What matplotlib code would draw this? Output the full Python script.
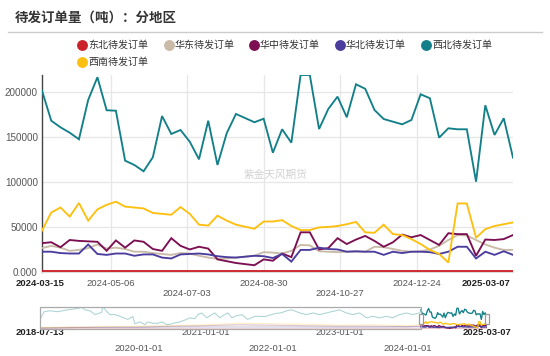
import matplotlib
matplotlib.use('Agg')
import matplotlib.pyplot as plt
import matplotlib.dates as mdates
import pandas as pd
from matplotlib.lines import Line2D
from matplotlib.patches import Rectangle
from matplotlib.ticker import FuncFormatter, FixedLocator
import matplotlib.transforms as mtransforms

plt.rcParams['font.family'] = ['Liberation Sans', 'Noto Sans CJK SC', 'DejaVu Sans']

# ---------------- data ----------------
dates = ['2024-03-15', '2024-03-22', '2024-03-29', '2024-04-05', '2024-04-12', '2024-04-19',
         '2024-04-26', '2024-05-03', '2024-05-10', '2024-05-17', '2024-05-24', '2024-05-31',
         '2024-06-07', '2024-06-14', '2024-06-21', '2024-06-28', '2024-07-05', '2024-07-12',
         '2024-07-19', '2024-07-26', '2024-08-02', '2024-08-09', '2024-08-23', '2024-08-30',
         '2024-09-06', '2024-09-13', '2024-09-20', '2024-09-27', '2024-10-04', '2024-10-11',
         '2024-10-18', '2024-10-25', '2024-11-01', '2024-11-08', '2024-11-15', '2024-11-22',
         '2024-11-29', '2024-12-06', '2024-12-13', '2024-12-20', '2024-12-27', '2025-01-03',
         '2025-01-10', '2025-01-17', '2025-01-24', '2025-01-31', '2025-02-07', '2025-02-14',
         '2025-02-21', '2025-02-28', '2025-03-07']

northeast = [1000, 1000, 1000, 1000, 1000, 1000, 1000, 1000, 1000, 1000, 1000, 1000, 1000,
             1000, 1000, 1000, 1000, 1000, 1000, 1000, 1000, 1000, 1000, 1000, 1000, 1000,
             1000, 1000, 1000, 1000, 1000, 1000, 1000, 1000, 1000, 1000, 1000, 1000, 1000,
             1000, 1000, 1000, 1000, 1000, 1000, 1000, 1000, 1000, 1000, 1000, 1000]
east = [26500, 29000, 27000, 23500, 24500, 26500, 30500, 26000, 27000, 25500, 22500, 22500,
        21000, 20000, 19000, 21000, 20500, 18000, 16000, 14500, 15000, 16000, 18000, 22000,
        21500, 20500, 23500, 30000, 29500, 23000, 22500, 22000, 22500, 22500, 22500, 28000,
        27500, 25500, 23500, 22500, 23000, 25000, 29000, 35500, 41000, 40500, 35500, 30500,
        27000, 24500, 24500]
central = [32000, 33000, 27500, 35500, 34500, 34000, 33500, 23500, 35000, 27000, 35000, 33500,
           25500, 23500, 37500, 29000, 25000, 28000, 26000, 14000, 12000, 10000, 7500, 14000,
           12500, 20500, 16500, 44000, 44000, 25000, 26500, 37500, 31000, 36000, 40000, 34500,
           28000, 33000, 41500, 38500, 41000, 35500, 30000, 43000, 42000, 42000, 18000, 36000,
           35500, 36500, 41000]
north = [22500, 22500, 21000, 20500, 20500, 30500, 20000, 19000, 20500, 20500, 18000, 19500,
         19500, 16000, 15000, 19500, 20000, 20500, 19500, 17500, 16500, 16000, 18000, 17500,
         15500, 20000, 11500, 24500, 24500, 27000, 25500, 25000, 22500, 23000, 22500, 22500,
         19000, 22500, 21000, 22500, 22500, 22000, 20000, 22500, 28000, 28000, 15000, 22500,
         19000, 23000, 19000]
northwest = [201100, 167800, 160500, 154500, 147200, 190800, 216000, 179400, 178900, 123500,
             118700, 111700, 127200, 173000, 153100, 157500, 144500, 125000, 167800, 118700,
             153900, 175300, 166100, 170000, 132300, 158300, 143400, 218500, 218500, 158600,
             180800, 194500, 171600, 208200, 203200, 179700, 169700, 166700, 163800, 168600,
             197100, 192700, 149000, 159400, 158300, 158300, 100200, 184900, 152000, 170500,
             126800]
southwest = [46000, 66000, 71500, 61500, 76500, 57000, 69500, 74500, 78000, 72500, 71500, 70500,
             65500, 64500, 63500, 72000, 64500, 52500, 51500, 62500, 57000, 52500, 48000, 56000,
             56000, 57500, 51000, 46500, 46500, 49500, 50000, 51000, 53000, 55500, 44000, 43500,
             52500, 42000, 41000, 36500, 31000, 24500, 20000, 10500, 76000, 76000, 38000, 47500,
             51000, 53000, 55000]

# history shown only in the data-zoom slider
hist_nw_dates = ['2018-07-13', '2018-08-04', '2018-09-05', '2018-10-19', '2018-12-07',
                 '2019-01-19', '2019-02-26', '2019-03-15', '2019-04-11', '2019-05-08', '2019-06-13',
                 '2019-06-20', '2019-07-12', '2019-07-28', '2019-08-25', '2019-09-21', '2019-11-03',
                 '2019-11-30', '2019-12-11',
                 '2020-01-08', '2020-02-04', '2020-02-20', '2020-03-18', '2020-04-14', '2020-05-06',
                 '2020-06-02', '2020-06-19', '2020-07-16', '2020-08-12', '2020-09-08', '2020-10-05',
                 '2020-11-01', '2020-11-18', '2020-12-08',
                 '2021-01-06', '2021-02-02', '2021-02-18', '2021-03-17', '2021-04-13', '2021-04-30',
                 '2021-05-22', '2021-06-07', '2021-07-15', '2021-08-16', '2021-09-24', '2021-11-17',
                 '2022-01-10', '2022-02-17', '2022-03-16', '2022-04-13', '2022-05-26', '2022-07-02',
                 '2022-08-05', '2022-09-12', '2022-10-18', '2022-11-21', '2022-12-29',
                 '2023-02-04', '2023-03-10', '2023-04-17', '2023-05-24', '2023-06-27', '2023-08-04',
                 '2023-09-09', '2023-10-13', '2023-11-21', '2023-12-27',
                 '2024-01-30', '2024-03-08']
hist_nw = [101000, 182000, 192000, 182000, 202000,
           212000, 227000, 202000, 192000, 152000, 175000, 235000, 182000, 152000, 152000,
           134000, 101000, 131000, 55000,
           75000, 45000, 75000, 60000, 60000, 75000, 45000, 50000, 65000, 75000, 94000, 118000,
           108000, 152000, 169000,
           118000, 152000, 169000, 118000, 152000, 169000, 118000, 134000, 152000, 101000,
           134000, 131000,
           162000, 172000, 192000, 202000, 169000, 152000, 169000, 152000, 169000, 185000, 202000,
           169000, 152000, 169000, 118000, 134000, 118000, 134000, 118000, 152000, 169000,
           152000, 169000]
hist_dates = ['2018-07-13', '2019-01-01', '2019-07-01', '2020-01-01', '2020-07-01', '2021-01-01',
              '2021-07-01', '2022-01-01', '2022-07-01', '2023-01-01', '2023-07-01', '2024-01-01',
              '2024-03-08']
hist_ne = [2000, 2000, 2000, 2000, 2000, 2000, 2000, 2000, 2000, 2000, 2000, 2000, 2000]
hist_east = [15000, 20000, 20000, 25000, 25000, 30000, 30000, 30000, 25000, 25000, 25000, 25000, 27000]
hist_central = [10000, 15000, 20000, 20000, 30000, 35000, 45000, 40000, 35000, 30000, 30000, 25000, 30000]
hist_north = [10000, 15000, 15000, 15000, 20000, 20000, 20000, 20000, 20000, 18000, 18000, 20000, 22000]
hist_sw = [15000, 20000, 25000, 30000, 35000, 45000, 60000, 55000, 50000, 40000, 45000, 35000, 45000]

names = ['东北待发订单', '华东待发订单', '华中待发订单', '华北待发订单', '西北待发订单', '西南待发订单']
colors = ['#CC2229', '#C9BBA8', '#7B0F52', '#4B3D9E', '#138089', '#FDC010']

xticks_main = ['2024-05-06', '2024-07-03', '2024-08-30', '2024-10-27', '2024-12-24']
xstart, xend = '2024-03-15', '2025-03-07'
slider_start = '2018-07-13'
slider_ticks = ['2020-01-01', '2021-01-01', '2022-01-01', '2023-01-01', '2024-01-01']

# ---------------- figure ----------------
W, H = 550, 356
fig = plt.figure(figsize=(W / 100, H / 100), dpi=100)


def fx(px):
    return px / W


def fy(py):
    return 1 - py / H


cjk = ['Noto Sans CJK SC', 'DejaVu Sans']

fig.text(fx(15), fy(18), '待发订单量（吨）：分地区', fontsize=9.7, fontweight='bold',
         color='#333333', ha='left', va='center', family=cjk)
fig.add_artist(Line2D([fx(8), fx(542)], [fy(32), fy(32)], color='#cccccc', lw=1))

# legend (manual, ECharts-like flow)
leg_pos = [(82, 45), (169, 45), (254, 45), (340, 45), (426, 45), (82, 62)]
for (px, py), name, c in zip(leg_pos, names, colors):
    fig.add_artist(Line2D([fx(px)], [fy(py)], marker='o', markersize=6.8, color=c, lw=0))
    fig.text(fx(px + 6), fy(py), name, fontsize=7.2, color='#333333', ha='left',
             va='center', family=cjk)

series = [northeast, east, central, north, northwest, southwest]
d = pd.to_datetime(dates)

ax = fig.add_axes([fx(42), fy(272), fx(513) - fx(42), fy(75) - fy(272)])
for i, (vals, c) in enumerate(zip(series, colors)):
    ax.plot(d, vals, color=c, lw=1.35, zorder=3 + i, solid_joinstyle='miter')

ymax = max(max(s) for s in series)
ax.set_ylim(0, ymax)
ax.set_xlim(pd.Timestamp(xstart), pd.Timestamp(xend))
ax.yaxis.set_major_locator(FixedLocator([0, 50000, 100000, 150000, 200000]))
ax.yaxis.set_major_formatter(FuncFormatter(lambda v, p: '0.000' if v == 0 else f'{int(v)}'))
ax.set_xticks(pd.to_datetime(xticks_main))
ax.set_xticklabels([''] * len(xticks_main))
ax.tick_params(axis='both', length=0)
ax.tick_params(axis='y', labelsize=7.1, labelcolor='#555555', pad=3)
ax.grid(True, color='#e6e6e6', lw=0.9)
ax.set_axisbelow(True)
for s in ['top', 'right']:
    ax.spines[s].set_visible(False)
ax.spines['left'].set_color('#444444')
ax.spines['left'].set_linewidth(1.0)
ax.spines['bottom'].set_color('#dddddd')

row1, row2 = 8.0, 15.8
for i, lab in enumerate(xticks_main):
    ax.annotate(lab, xy=(pd.Timestamp(lab), 0), xycoords=('data', 'axes fraction'),
                xytext=(0, -(row1 if i % 2 == 0 else row2)), textcoords='offset points',
                ha='center', va='center', fontsize=6.8, color='#555555')
ax.annotate(xstart, xy=(pd.Timestamp(xstart), 0), xycoords=('data', 'axes fraction'),
            xytext=(-1.5, -row1), textcoords='offset points', ha='center', va='center',
            fontsize=6.8, color='#222222', fontweight='bold')
ax.annotate(xend, xy=(pd.Timestamp(xend), 0), xycoords=('data', 'axes fraction'),
            xytext=(-2, -row1), textcoords='offset points', ha='right', va='center',
            fontsize=6.8, color='#222222', fontweight='bold')

fig.text(fx(275), fy(175), '紫金天风期货', fontsize=7.7, color='#d2d2d2', ha='center',
         va='center', family=cjk, zorder=1)

# ---------------- data zoom slider ----------------
sax = fig.add_axes([fx(40), fy(329), fx(486.5) - fx(40), fy(306.7) - fy(329)])
sax.set_xlim(pd.Timestamp(slider_start), pd.Timestamp(xend))
sax.set_ylim(0, max(max(hist_nw), ymax))
sax.axis('off')
hd = pd.to_datetime(hist_dates)
hists = [hist_ne, hist_east, hist_central, hist_north, None, hist_sw]
for i, (vals, c) in enumerate(zip(series, colors)):
    if i == 4:
        hx = list(pd.to_datetime(hist_nw_dates)) + list(d)
        hy = hist_nw + vals
        alpha = 0.35
    else:
        hx = list(hd) + list(d)
        hy = hists[i] + vals
        alpha = 0.25
    sax.plot(hx, hy, color=c, lw=0.75, alpha=alpha, zorder=2 + i)
    sax.plot(d, vals, color=c, lw=0.9, zorder=10 + i)

trans = mtransforms.blended_transform_factory(sax.transData, sax.transAxes)
xs0 = mdates.date2num(pd.Timestamp(slider_start))
xs1 = mdates.date2num(pd.Timestamp(xstart))
xs2 = mdates.date2num(pd.Timestamp(xend))
sax.add_patch(Rectangle((xs0, 0), xs1 - xs0, 1, transform=trans, fill=False,
                        edgecolor='#aaaaaa', lw=0.9, clip_on=False, zorder=20))
fig.canvas.draw()
for xv in (xs1, xs2):
    px, _ = sax.transData.transform((xv, 0))
    fig.add_artist(Rectangle((px - 2, fy(323.5) * H), 4, 10, transform=None,
                             facecolor='white', edgecolor='#999999', lw=0.9, zorder=30))

srow1, srow2 = 2.5, 14.0
for i, lab in enumerate(slider_ticks):
    sax.annotate(lab, xy=(pd.Timestamp(lab), 0), xycoords=('data', 'axes fraction'),
                 xytext=(0, -(srow2 if i % 2 == 0 else srow1)), textcoords='offset points',
                 ha='center', va='center', fontsize=6.8, color='#555555')
sax.annotate(slider_start, xy=(pd.Timestamp(slider_start), 0), xycoords=('data', 'axes fraction'),
             xytext=(0, -srow1), textcoords='offset points', ha='center', va='center',
             fontsize=6.8, color='#222222', fontweight='bold')
sax.annotate(xend, xy=(pd.Timestamp(xend), 0), xycoords=('data', 'axes fraction'),
             xytext=(0.5, -srow1), textcoords='offset points', ha='center', va='center',
             fontsize=6.8, color='#222222', fontweight='bold')

fig.savefig('out.png', dpi=100)
